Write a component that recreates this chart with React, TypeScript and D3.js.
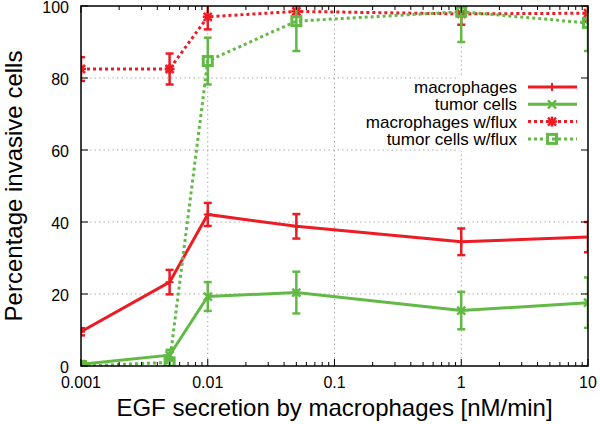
import React from "react";
import * as d3 from "d3";

const xValues = [0.001, 0.005, 0.01, 0.05, 1, 10];
const macro = [9.5, 23.3, 42.1, 38.8, 34.5, 35.8];
const macroErr = [1, 3.4, 3.2, 3.4, 3.7, 4.2];
const tumor = [0.5, 3, 19.3, 20.4, 15.4, 17.6];
const tumorErr = [0.5, 1.5, 4, 5.8, 5.2, 7];
const macroFlux = [82.5, 82.5, 97, 98.5, 97.8, 98];
const macroFluxErr = [3.3, 4.3, 3.5, 1.5, 3, 2.3];
const tumorFlux = [0, 1, 84.7, 95.8, 98.4, 95.3];
const tumorFluxErr = [0.5, 1, 6.5, 8.3, 8.4, 7.8];

const xTicks = [0.001, 0.01, 0.1, 1, 10];
const xTickLabels = ["0.001", "0.01", "0.1", "1", "10"];
const yTicks = [0, 20, 40, 60, 80, 100];
const legendLabels = ["macrophages", "tumor cells", "macrophages w/flux", "tumor cells w/flux"];

const RED = "#ec1c24";
const GREEN = "#62b946";
const FONT = "'Liberation Sans', Arial, Helvetica, sans-serif";

const L = 81, R = 588, T = 6, B = 366;

type Marker = "plus" | "cross" | "star" | "square";

function MarkerShape({ x, y, type, color }: { x: number; y: number; type: Marker; color: string }) {
  const s = 4;
  if (type === "plus")
    return (
      <g stroke={color} strokeWidth={2}>
        <line x1={x - s} x2={x + s} y1={y} y2={y} />
        <line x1={x} x2={x} y1={y - s} y2={y + s} />
      </g>
    );
  if (type === "cross")
    return (
      <g stroke={color} strokeWidth={2.5}>
        <line x1={x - s} x2={x + s} y1={y - s} y2={y + s} />
        <line x1={x - s} x2={x + s} y1={y + s} y2={y - s} />
      </g>
    );
  if (type === "star")
    return (
      <g stroke={color} strokeWidth={2.5}>
        <line x1={x - s} x2={x + s} y1={y - s} y2={y + s} />
        <line x1={x - s} x2={x + s} y1={y + s} y2={y - s} />
        <line x1={x - s - 1} x2={x + s + 1} y1={y} y2={y} />
        <line x1={x} x2={x} y1={y - s - 1} y2={y + s + 1} />
      </g>
    );
  return <rect x={x - 4.5} y={y - 4.5} width={9} height={9} fill="none" stroke={color} strokeWidth={3} />;
}

export default function App() {
  const xs = d3.scaleLog().domain([0.001, 10]).range([L, R]);
  const ys = d3.scaleLinear().domain([0, 100]).range([B, T]);
  const line = d3
    .line<number>()
    .x((_, i) => xs(xValues[i]))
    .y((d) => ys(d));

  const series = [
    { vals: macro, err: macroErr, color: RED, dotted: false, marker: "plus" as Marker },
    { vals: tumor, err: tumorErr, color: GREEN, dotted: false, marker: "cross" as Marker },
    { vals: macroFlux, err: macroFluxErr, color: RED, dotted: true, marker: "star" as Marker },
    { vals: tumorFlux, err: tumorFluxErr, color: GREEN, dotted: true, marker: "square" as Marker },
  ];

  const minorTicks: number[] = [];
  for (let e = -3; e < 1; e++) {
    for (let m = 2; m <= 9; m++) minorTicks.push(m * Math.pow(10, e));
  }

  const legendX = 517;
  const legendY0 = 87;
  const legendDy = 17.3;

  return (
    <svg width={600} height={424} style={{ position: "absolute", left: 0, top: 0, background: "#fff" }} fontFamily={FONT}>
      <defs>
        <clipPath id="plotclip">
          <rect x={L} y={T} width={R - L} height={B - T} />
        </clipPath>
      </defs>
      <rect x={0} y={0} width={600} height={424} fill="#fff" />
      {/* grid */}
      <g stroke="#aaa" strokeWidth={1} strokeDasharray="1.5,3">
        {[0.01, 0.1, 1].map((v) => (
          <line key={"gx" + v} x1={xs(v)} x2={xs(v)} y1={T} y2={B} />
        ))}
        {[20, 40, 60, 80].map((v) => (
          <line key={"gy" + v} x1={L} x2={R} y1={ys(v)} y2={ys(v)} />
        ))}
      </g>
      <rect x={xs(1) - 2} y={ys(80) - 1} width={R - xs(1) + 1} height={ys(60) - ys(80) + 2} fill="#fff" />
      {/* data */}
      <g clipPath="url(#plotclip)">
        {series.map((s, si) => (
          <g key={"s" + si}>
            <path
              d={line(s.vals) || ""}
              fill="none"
              stroke={s.color}
              strokeWidth={3}
              strokeDasharray={s.dotted ? "3,3" : undefined}
            />
            {s.vals.map((v, i) => {
              const x = xs(xValues[i]);
              const y1 = ys(v + s.err[i]);
              const y2 = ys(v - s.err[i]);
              return (
                <g key={i} stroke={s.color} strokeWidth={2.5}>
                  <line x1={x} x2={x} y1={y1} y2={y2} />
                  <line x1={x - 4} x2={x + 4} y1={y1} y2={y1} />
                  <line x1={x - 4} x2={x + 4} y1={y2} y2={y2} />
                </g>
              );
            })}
            {s.vals.map((v, i) => (
              <MarkerShape key={"m" + i} x={xs(xValues[i])} y={ys(v)} type={s.marker} color={s.color} />
            ))}
          </g>
        ))}
      </g>
      {/* axes border and ticks */}
      <rect x={L} y={T} width={R - L} height={B - T} fill="none" stroke="#000" strokeWidth={1.5} />
      <g stroke="#000" strokeWidth={1}>
        {xTicks.map((v) => (
          <g key={"tx" + v}>
            <line x1={xs(v)} x2={xs(v)} y1={B} y2={B - 7} />
            <line x1={xs(v)} x2={xs(v)} y1={T} y2={T + 7} />
          </g>
        ))}
        {minorTicks.map((v) => (
          <g key={"mx" + v}>
            <line x1={xs(v)} x2={xs(v)} y1={B} y2={B - 4} />
            <line x1={xs(v)} x2={xs(v)} y1={T} y2={T + 4} />
          </g>
        ))}
        {yTicks.map((v) => (
          <g key={"ty" + v}>
            <line x1={L} x2={L + 7} y1={ys(v)} y2={ys(v)} />
            <line x1={R} x2={R - 7} y1={ys(v)} y2={ys(v)} />
          </g>
        ))}
      </g>
      {/* tick labels */}
      <g fontSize={16} fill="#000">
        {xTicks.map((v, i) => (
          <text key={"lx" + v} x={xs(v)} y={388} textAnchor="middle">
            {xTickLabels[i]}
          </text>
        ))}
        {yTicks.map((v) => (
          <text key={"ly" + v} x={69} y={ys(v)} dy="0.42em" textAnchor="end">
            {v}
          </text>
        ))}
      </g>
      {/* titles */}
      <text x={(L + R) / 2} y={416} textAnchor="middle" fontSize={24} fill="#000">
        EGF secretion by macrophages [nM/min]
      </text>
      <text transform={`translate(22,${(T + B) / 2}) rotate(-90)`} textAnchor="middle" fontSize={24} fill="#000">
        Percentage invasive cells
      </text>
      {/* legend */}
      {series.map((s, i) => {
        const y = legendY0 + i * legendDy;
        return (
          <g key={"lg" + i}>
            <text x={legendX} y={y} dy="0.35em" textAnchor="end" fontSize={17} fill="#000">
              {legendLabels[i]}
            </text>
            <line
              x1={528}
              x2={577}
              y1={y}
              y2={y}
              stroke={s.color}
              strokeWidth={3}
              strokeDasharray={s.dotted ? "3,3" : undefined}
            />
            <MarkerShape x={552} y={y} type={s.marker} color={s.color} />
          </g>
        );
      })}
    </svg>
  );
}
